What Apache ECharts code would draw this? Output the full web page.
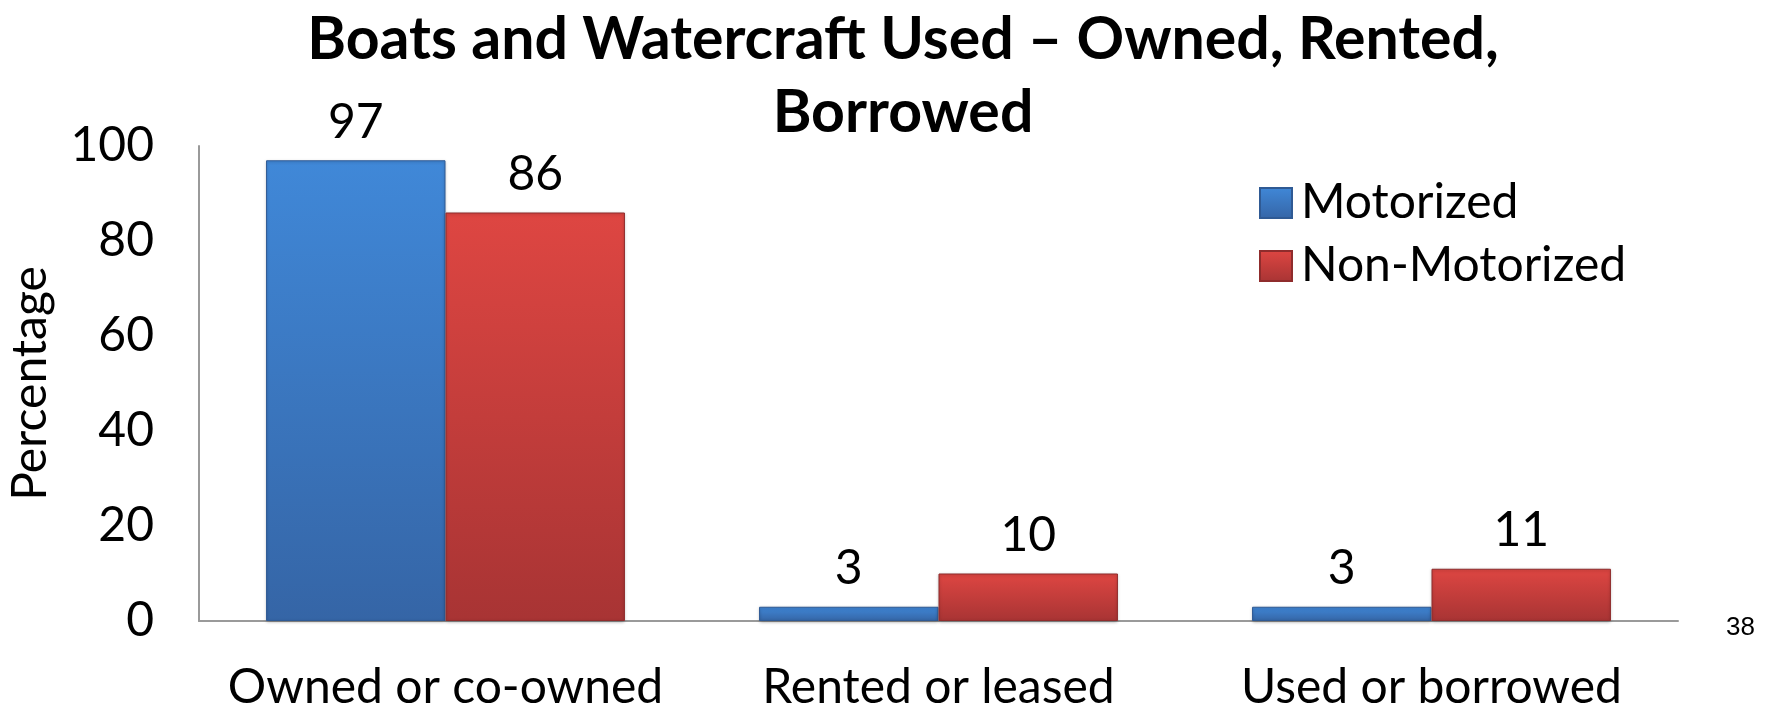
<!DOCTYPE html>
<html>
<head>
<meta charset="utf-8">
<script src="https://cdn.jsdelivr.net/npm/echarts@6/dist/echarts.min.js"></script>
<style>
html,body{margin:0;padding:0;background:#fff;}
#chart{width:1771px;height:710px;}
</style>
</head>
<body>
<div id="chart"></div>
<script>
const titleText = 'Boats and Watercraft Used \u2013 Owned, Rented,\nBorrowed';
const categories = ['Owned or co-owned', 'Rented or leased', 'Used or borrowed'];
const motorized = [97, 3, 3];
const nonMotorized = [86, 10, 11];
const seriesNames = ['Motorized', 'Non-Motorized'];
const yTicks = { min: 0, max: 100, interval: 20 };
const pageNumber = '38';

const FONT = 'Lato';
const FS = 48;
const chart = echarts.init(document.getElementById('chart'));

function grad(top, bottom) {
  return new echarts.graphic.LinearGradient(0, 0, 0, 1, [
    { offset: 0, color: top },
    { offset: 1, color: bottom }
  ]);
}

const blue = grad('#4088d8', '#3565a6');
const red = grad('#de4642', '#a83434');

chart.setOption({
  backgroundColor: '#ffffff',
  title: {
    text: titleText,
    left: 898,
    top: -2,
    textAlign: 'center',
    textStyle: {
      fontFamily: FONT,
      fontWeight: 'bold',
      fontSize: 59,
      lineHeight: 73,
      color: '#000'
    }
  },
  legend: {
    orient: 'vertical',
    left: 1254,
    top: 170,
    itemWidth: 32,
    itemHeight: 30,
    itemGap: 7,
    icon: 'rect',
    data: seriesNames,
    textStyle: {
      fontFamily: FONT,
      fontSize: FS,
      lineHeight: 56,
      color: '#000',
      padding: [0, 0, 0, 4]
    }
  },
  grid: {
    left: 199,
    right: 93,
    top: 146,
    bottom: 89,
    containLabel: false,
    outerBoundsMode: 'none'
  },
  xAxis: {
    type: 'category',
    data: categories,
    axisLine: { show: true, lineStyle: { color: '#9a9a9a', width: 2 } },
    axisTick: { show: false },
    axisLabel: {
      interval: 0,
      margin: 43,
      fontFamily: FONT,
      fontSize: FS,
      color: '#000'
    }
  },
  yAxis: {
    type: 'value',
    min: yTicks.min,
    max: yTicks.max,
    interval: yTicks.interval,
    name: 'Percentage',
    nameLocation: 'middle',
    nameRotate: 90,
    nameGap: 144,
    nameTextStyle: {
      fontFamily: FONT,
      fontSize: FS,
      color: '#000'
    },
    axisLine: { show: true, lineStyle: { color: '#9a9a9a', width: 2 } },
    axisTick: { show: false },
    splitLine: { show: false },
    axisLabel: {
      margin: 45,
      fontFamily: FONT,
      fontSize: FS,
      color: '#000'
    }
  },
  series: [
    {
      name: seriesNames[0],
      type: 'bar',
      data: motorized,
      barGap: '0%',
      barCategoryGap: '27.2%',
      itemStyle: { color: blue, borderColor: '#2f5a94', borderWidth: 1, shadowColor: 'rgba(0,0,0,0.25)', shadowBlur: 3, shadowOffsetY: 1 },
      label: {
        show: true,
        position: 'top',
        distance: 14,
        fontFamily: FONT,
        fontSize: FS,
        color: '#000'
      }
    },
    {
      name: seriesNames[1],
      type: 'bar',
      data: nonMotorized,
      barGap: '0%',
      barCategoryGap: '27.2%',
      itemStyle: { color: red, borderColor: '#8f2c2c', borderWidth: 1, shadowColor: 'rgba(0,0,0,0.25)', shadowBlur: 3, shadowOffsetY: 1 },
      label: {
        show: true,
        position: 'top',
        distance: 14,
        fontFamily: FONT,
        fontSize: FS,
        color: '#000'
      }
    }
  ],
  graphic: [
    {
      type: 'text',
      left: 1726,
      top: 615,
      style: {
        text: pageNumber,
        fontFamily: 'Liberation Sans',
        fontSize: 26,
        fill: '#000'
      }
    }
  ]
});
</script>
</body>
</html>
